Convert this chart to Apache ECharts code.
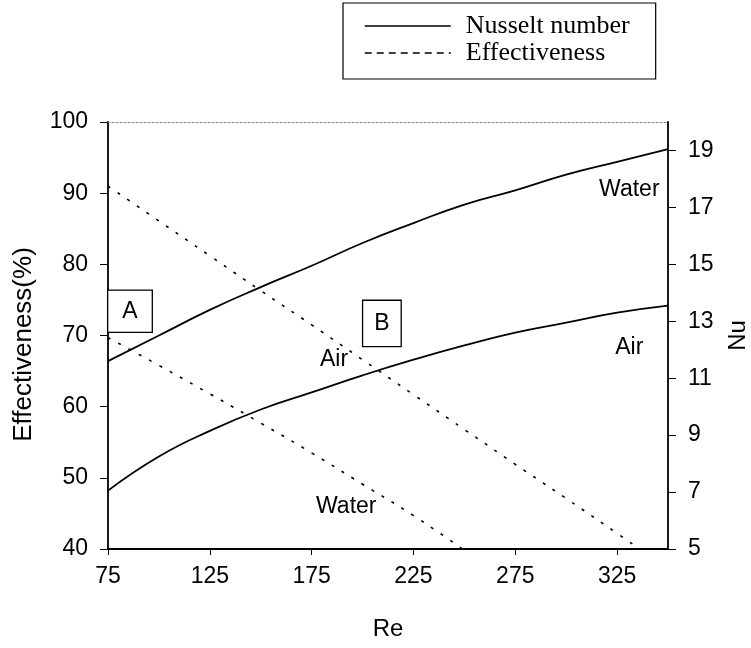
<!DOCTYPE html>
<html>
<head>
<meta charset="utf-8">
<script src="https://cdn.jsdelivr.net/npm/echarts@6/dist/echarts.min.js"></script>
<style>
  html, body { margin: 0; padding: 0; background: #fff; }
  #chart { width: 751px; height: 648px; }
</style>
</head>
<body>
<div id="chart"></div>
<script>
// Reynolds number tick labels and the Nu tick labels on the right axis
const reTicks = [75, 125, 175, 225, 275, 325];
const nuTicks = [5, 7, 9, 11, 13, 15, 17, 19];

// Nusselt number against Re
const reNu = [75, 100, 125, 150, 175, 200, 225, 250, 275, 300, 325, 350];
const nuWater = [11.6, 12.5, 13.4, 14.2, 14.95, 15.75, 16.45, 17.1, 17.6, 18.15, 18.6, 19.05];
const nuAir = [7.05, 8.25, 9.15, 9.9, 10.5, 11.1, 11.65, 12.15, 12.6, 12.95, 13.3, 13.55];

// Effectiveness (%) against Re
const reEffAir = [75, 100, 125, 150, 175, 200, 225, 250, 275, 300, 325, 336];
const effAir = [91.0, 86.1, 81.2, 76.3, 71.5, 66.6, 61.7, 56.8, 51.9, 47.1, 42.2, 40.0];
const reEffWater = [75, 100, 125, 150, 175, 200, 225, 249];
const effWater = [69.7, 65.8, 61.8, 57.7, 53.5, 49.1, 44.7, 40.0];

const zip = (xs, ys) => xs.map((x, i) => [x, ys[i]]);

const SANS = "'Liberation Sans', Arial, sans-serif";
const SERIF = "'Liberation Serif', 'Times New Roman', serif";

// Text notes placed in data units (Re, Effectiveness %)
const notes = [
  { text: 'A', at: [85.8, 73.4], boxed: true, pad: [9, 14] },
  { text: 'B', at: [209.5, 71.7], boxed: true, pad: [11, 11] },
  { text: 'Water', at: [331, 90.5] },
  { text: 'Air', at: [186, 66.6] },
  { text: 'Air', at: [331, 68.3] },
  { text: 'Water', at: [192, 45.9] }
];

const solid = { color: '#000', width: 1.8, type: 'solid' };
const dotted = { color: '#000', width: 1.6, type: [3, 8.7] };

const chart = echarts.init(document.getElementById('chart'), null, { renderer: 'canvas' });

chart.setOption({
  animation: false,
  backgroundColor: '#fff',
  grid: { left: 108, right: 83, top: 122, bottom: 99, containLabel: false, outerBoundsMode: 'none' },
  legend: {
    orient: 'vertical',
    left: 343,
    top: 3,
    itemWidth: 86,
    itemHeight: 14,
    itemGap: 1,
    padding: [10, 26, 13, 21],
    borderColor: '#000',
    borderWidth: 1.2,
    selectedMode: false,
    textStyle: { fontFamily: SERIF, fontSize: 26, color: '#000', padding: [0, 0, 0, 10] },
    data: [
      {
        name: 'Nusselt number',
        itemStyle: { opacity: 0 },
        lineStyle: { type: 'solid', width: 1.5, color: '#000' }
      },
      {
        name: 'Effectiveness',
        itemStyle: { opacity: 0 },
        lineStyle: { type: [7, 5], width: 1.3, color: '#000' }
      }
    ]
  },
  xAxis: [
    {
      type: 'value',
      min: 75,
      max: 350,
      name: 'Re',
      nameLocation: 'middle',
      nameGap: 68,
      nameTextStyle: { fontFamily: SANS, fontSize: 24, color: '#000' },
      splitLine: { show: false },
      axisLine: { show: true, onZero: false, lineStyle: { color: '#000', width: 1.8 } },
      axisTick: { show: true, length: 6, customValues: reTicks, lineStyle: { color: '#000', width: 1 } },
      axisLabel: { customValues: reTicks, margin: 16, fontFamily: SANS, fontSize: 23, color: '#000' }
    },
    {
      type: 'value',
      position: 'top',
      min: 75,
      max: 350,
      splitLine: { show: false },
      axisLine: { show: true, onZero: false, lineStyle: { color: '#888', width: 1, type: [2, 2] } },
      axisTick: { show: false },
      axisLabel: { show: false }
    }
  ],
  yAxis: [
    {
      type: 'value',
      min: 40,
      max: 100,
      interval: 10,
      name: 'Effectiveness(%)',
      nameLocation: 'middle',
      nameGap: 71,
      nameTextStyle: { fontFamily: SANS, fontSize: 26, color: '#000', padding: [0, 18, 0, 0] },
      splitLine: { show: false },
      axisLine: { show: true, onZero: false, lineStyle: { color: '#000', width: 1.8 } },
      axisTick: { show: true, length: 8, lineStyle: { color: '#000', width: 1 } },
      axisLabel: { margin: 20, fontFamily: SANS, fontSize: 23, color: '#000' }
    },
    {
      type: 'value',
      position: 'right',
      min: 5,
      max: 20,
      name: 'Nu',
      nameLocation: 'middle',
      nameGap: 58,
      nameTextStyle: { fontFamily: SANS, fontSize: 24, color: '#000' },
      splitLine: { show: false },
      axisLine: { show: true, onZero: false, lineStyle: { color: '#000', width: 1.8 } },
      axisTick: { show: true, length: 8, customValues: nuTicks, lineStyle: { color: '#000', width: 1 } },
      axisLabel: { customValues: nuTicks, margin: 20, fontFamily: SANS, fontSize: 23, color: '#000' }
    }
  ],
  series: [
    {
      name: 'Nusselt number', type: 'line', yAxisIndex: 1, smooth: true,
      symbol: 'none', lineStyle: solid, itemStyle: { color: '#000' },
      data: zip(reNu, nuWater)
    },
    {
      name: 'Nusselt number', type: 'line', yAxisIndex: 1, smooth: true,
      symbol: 'none', lineStyle: solid, itemStyle: { color: '#000' },
      data: zip(reNu, nuAir)
    },
    {
      name: 'Effectiveness', type: 'line', yAxisIndex: 0, smooth: true,
      symbol: 'none', lineStyle: dotted, itemStyle: { color: '#000' },
      data: zip(reEffAir, effAir)
    },
    {
      name: 'Effectiveness', type: 'line', yAxisIndex: 0, smooth: true,
      symbol: 'none', lineStyle: dotted, itemStyle: { color: '#000' },
      data: zip(reEffWater, effWater)
    },
    {
      name: 'notes', type: 'scatter', yAxisIndex: 0, symbolSize: 0, silent: true, z: 5,
      itemStyle: { opacity: 1, color: '#000' },
      data: notes.map(n => ({
        value: n.at,
        label: {
          show: true,
          position: 'inside',
          formatter: n.text,
          fontFamily: SANS,
          fontSize: 23,
          color: '#000',
          opacity: 1,
          backgroundColor: n.boxed ? '#fff' : 'transparent',
          borderColor: n.boxed ? '#000' : 'transparent',
          borderWidth: n.boxed ? 1.3 : 0,
          padding: n.pad || 0
        }
      }))
    }
  ]
});
</script>
</body>
</html>
